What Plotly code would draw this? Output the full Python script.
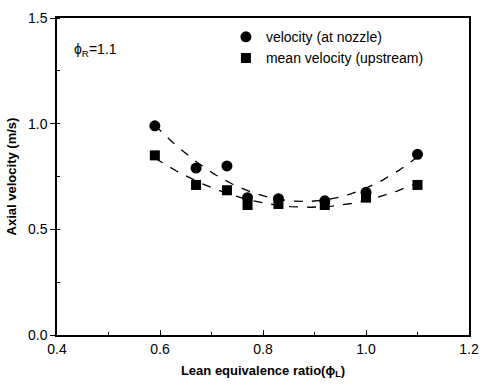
import numpy as np
import plotly.graph_objects as go

phi_L = [0.59, 0.67, 0.73, 0.77, 0.83, 0.92, 1.00, 1.10]
vel_nozzle = [0.99, 0.79, 0.80, 0.65, 0.645, 0.635, 0.675, 0.855]
vel_upstream = [0.85, 0.71, 0.685, 0.615, 0.62, 0.615, 0.65, 0.71]

x_ticks = [0.4, 0.6, 0.8, 1.0, 1.2]
y_ticks = [0.0, 0.5, 1.0, 1.5]

# quadratic trend lines fitted to the measured data (as in the original)
xf = np.linspace(min(phi_L), max(phi_L), 100)
fit_n = np.polyval(np.polyfit(phi_L, vel_nozzle, 2), xf)
fit_u = np.polyval(np.polyfit(phi_L, vel_upstream, 2), xf)

FONT = "Liberation Sans, Arial"

fig = go.Figure()
fig.add_trace(go.Scatter(x=xf, y=fit_n, mode="lines", showlegend=False,
                         line=dict(color="black", width=1.3, dash="dash")))
fig.add_trace(go.Scatter(x=xf, y=fit_u, mode="lines", showlegend=False,
                         line=dict(color="black", width=1.3, dash="dash")))
fig.add_trace(go.Scatter(x=phi_L, y=vel_nozzle, mode="markers", name="velocity (at nozzle)",
                         marker=dict(symbol="circle", size=11, color="black")))
fig.add_trace(go.Scatter(x=phi_L, y=vel_upstream, mode="markers", name="mean velocity (upstream)",
                         marker=dict(symbol="square", size=10, color="black")))

axis_common = dict(showline=True, linecolor="black", linewidth=1.5, mirror=True,
                   showgrid=False, zeroline=False, ticklen=5, tickcolor="black",
                   tickfont=dict(family=FONT, size=14, color="black"))
fig.update_xaxes(range=[0.4, 1.2], tickvals=x_ticks, ticktext=[f"{v:.1f}" for v in x_ticks],
                 ticks="inside", minor=dict(ticks="inside", ticklen=3, dtick=0.1, tickcolor="black"),
                 title=dict(text="<b>Lean equivalence ratio(ϕ<sub>L</sub>)</b>",
                            font=dict(family=FONT, size=13, color="black"),
                            standoff=10),
                 **axis_common)
fig.update_yaxes(range=[0, 1.5], tickvals=y_ticks, ticktext=[f"{v:.1f}" for v in y_ticks],
                 ticks="outside", minor=dict(ticks="inside", ticklen=3, dtick=0.25, tickcolor="black"),
                 title=dict(text="<b>Axial velocity (m/s)</b>",
                            font=dict(family=FONT, size=13, color="black"),
                            standoff=8),
                 **axis_common)

fig.add_annotation(x=0.43, y=1.35, xref="x", yref="y", showarrow=False, xanchor="left",
                   text="ϕ<sub>R</sub>=1.1",
                   font=dict(family=FONT, size=14, color="black"))

fig.update_layout(
    width=489, height=387,
    margin=dict(l=57, r=10, t=14, b=52),
    paper_bgcolor="white", plot_bgcolor="white",
    legend=dict(x=0.41, y=0.99, xanchor="left", yanchor="top",
                bgcolor="rgba(0,0,0,0)", tracegroupgap=0, itemwidth=30,
                font=dict(family=FONT, size=14, color="black")),
)

fig.write_html("out.html")
